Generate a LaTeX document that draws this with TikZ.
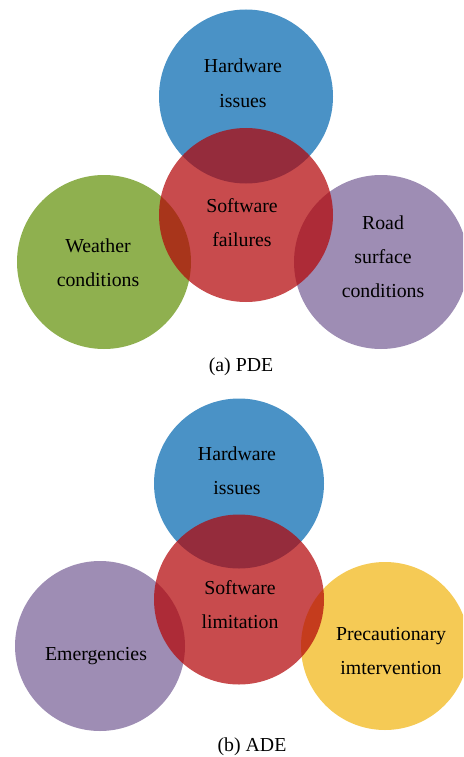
\documentclass[tikz,border=0pt]{standalone}
\usepackage{fontspec}
\setmainfont{Liberation Serif}
\usepackage{tikz}

\definecolor{hwblue}{RGB}{74,146,198}
\definecolor{swred}{RGB}{179,6,8}
\definecolor{wcgreen}{RGB}{143,176,79}
\definecolor{rspurple}{RGB}{158,141,180}
\definecolor{piyellow}{RGB}{245,202,85}

\begin{document}
\begin{tikzpicture}[x=1pt,y=-1pt,
	lbl/.style={align=center,anchor=base,inner sep=0pt,font=\fontsize{19.8}{34}\selectfont},
	capt/.style={anchor=base,inner sep=0pt,font=\fontsize{19.8}{24}\selectfont},
	softred/.style={fill=swred,fill opacity=0.72}]

	\useasboundingbox (0,0) rectangle (463,757);
	\clip (0,0) rectangle (463,757);

	% PDE %
	\fill [hwblue] (246,96.5) circle (87pt);
	\fill [wcgreen] (104,262) circle (87pt);
	\fill [rspurple] (381,262) circle (87pt);
	\fill [softred] (246,215) circle (87pt);
	\node (hwA) [lbl] at (243,107) {Hardware\\issues};
	\node (swA) [lbl] at (242,246) {Software\\failures};
	\node (wc) [lbl] at (98,286) {Weather\\conditions};
	\node (rs) [lbl] at (383,297) {Road\\surface\\conditions};
	\node (captA) [capt] at (241,371) {(a) PDE};

	% ADE %
	\fill [hwblue] (239,483.5) circle (85pt);
	\fill [rspurple] (100,646) circle (85pt);
	\fill [piyellow] (385,646) circle (84pt);
	\fill [softred] (239,599.5) circle (85pt);
	\node (hwB) [lbl] at (237,494) {Hardware\\issues};
	\node (swB) [lbl] at (240,628) {Software\\limitation};
	\node (em) [lbl] at (96,660) {Emergencies};
	\node (pi) [lbl] at (391,674) {Precautionary\\imtervention};
	\node (captB) [capt] at (252,751) {(b) ADE};
\end{tikzpicture}
\end{document}
